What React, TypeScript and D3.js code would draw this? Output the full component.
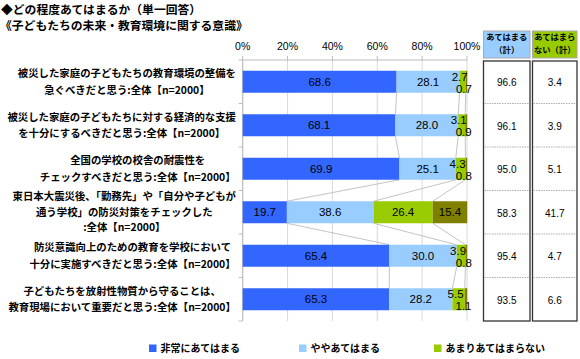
import React from "react";
import * as d3 from "d3";

const categories: string[][] = [
  ["被災した家庭の子どもたちの教育環境の整備を", "急ぐべきだと思う:全体【n=2000】"],
  ["被災した家庭の子どもたちに対する経済的な支援", "を十分にするべきだと思う:全体【n=2000】"],
  ["全国の学校の校舎の耐震性を", "チェックすべきだと思う:全体【n=2000】"],
  ["東日本大震災後、「勤務先」や「自分や子どもが", "通う学校」の防災対策をチェックした", ":全体【n=2000】"],
  ["防災意識向上のための教育を学校において", "十分に実施すべきだと思う:全体【n=2000】"],
  ["子どもたちを放射性物質から守ることは、", "教育現場において重要だと思う:全体【n=2000】"],
];

const seriesNames = ["非常にあてはまる", "ややあてはまる", "あまりあてはまらない", "まったくあてはまらない"];
const very = [68.6, 68.1, 69.9, 19.7, 65.4, 65.3];
const some = [28.1, 28.0, 25.1, 38.6, 30.0, 28.2];
const notMuch = [2.7, 3.1, 4.3, 26.4, 3.9, 5.5];
const notAtAll = [0.7, 0.9, 0.8, 15.4, 0.8, 1.1];
const appliesTotal = [96.6, 96.1, 95.0, 58.3, 95.4, 93.5];
const notAppliesTotal = [3.4, 3.9, 5.1, 41.7, 4.7, 6.6];
const xTicks = [0, 20, 40, 60, 80, 100];

const colors = ["#3366FF", "#99CCFF", "#99CC00", "#808000"];
const FONT = "'Noto Sans CJK JP', 'Noto Sans', sans-serif";
const NUMFONT = "'Liberation Sans', Arial, sans-serif";

const W = 580, H = 359;

let ctx: CanvasRenderingContext2D | null = null;
function measure(text: string, font: string): number {
  if (!ctx) ctx = document.createElement("canvas").getContext("2d");
  if (!ctx) return text.length * 10;
  ctx.font = font;
  return ctx.measureText(text).width;
}

export default function App() {
  const x = d3.scaleLinear().domain([0, 100]).range([242.7, 467]);
  const y = d3.scaleBand<number>().domain(d3.range(categories.length)).range([60, 321]).paddingInner(0).paddingOuter(0);
  const barH = 22;

  const rows = categories.map((_, i) => [very[i], some[i], notMuch[i], notAtAll[i]]);
  const stack = rows.map((r) => {
    let acc = 0;
    return r.map((v) => {
      const s = acc;
      acc += v;
      return [s, acc];
    });
  });

  const labelFontSize = 10.4;
  const labelFont = `bold ${labelFontSize}px ${FONT}`;
  const labelRight = 236;

  return (
    <svg width={W} height={H} style={{ position: "absolute", left: 0, top: 0, background: "#fff" }}>
      {/* Title */}
      <text x={1} y={13.5} fontFamily={FONT} fontWeight="bold" fontSize={11.8} fill="#000">◆どの程度あてはまるか（単一回答）</text>
      <text x={0} y={29.5} fontFamily={FONT} fontWeight="bold" fontSize={11.8} fill="#000">《子どもたちの未来・教育環境に関する意識》</text>

      {/* gridlines */}
      {xTicks.map((t) => (
        <line key={"g" + t} x1={x(t)} x2={x(t)} y1={60} y2={321} stroke="#d9d9d9" strokeWidth={1} />
      ))}
      {/* top axis */}
      <line x1={x(0)} x2={x(100)} y1={60} y2={60} stroke="#bbb" />
      {xTicks.map((t) => (
        <g key={"t" + t}>
          <line x1={x(t)} x2={x(t)} y1={56} y2={60} stroke="#bbb" />
          <text x={x(t)} y={50} textAnchor="middle" fontFamily={NUMFONT} fontSize={10.5} fill="#000">{t}%</text>
        </g>
      ))}
      {/* left axis */}
      <line x1={x(0)} x2={x(0)} y1={60} y2={321} stroke="#bbb" />
      {d3.range(categories.length + 1).map((k) => {
        const yy = 60 + k * y.bandwidth();
        return <line key={"lt" + k} x1={x(0) - 4} x2={x(0)} y1={yy} y2={yy} stroke="#bbb" />;
      })}

      {/* series lines */}
      {d3.range(categories.length - 1).map((i) =>
        [0, 1, 2].map((j) => {
          const y1 = (y(i) as number) + y.bandwidth() / 2 + barH / 2;
          const y2 = (y(i + 1) as number) + y.bandwidth() / 2 - barH / 2;
          return (
            <line key={`sl${i}-${j}`} x1={x(stack[i][j][1])} x2={x(stack[i + 1][j][1])} y1={y1} y2={y2} stroke="#b5b5b5" strokeWidth={0.8} />
          );
        })
      )}

      {/* bars */}
      {stack.map((segs, i) => {
        const cy = (y(i) as number) + y.bandwidth() / 2;
        return (
          <g key={"b" + i}>
            {segs.map(([s, e], j) => (
              <rect key={j} x={x(s)} y={cy - barH / 2} width={Math.max(0, Math.min(x(e), x(100.2)) - x(s))} height={barH} fill={colors[j]} />
            ))}
          </g>
        );
      })}
      {/* value labels */}
      {stack.map((segs, i) => {
        const cy = (y(i) as number) + y.bandwidth() / 2;
        return (
          <g key={"v" + i}>
            {segs.map(([s, e], j) => {
              const v = rows[i][j];
              let lx = (x(s) + x(e)) / 2;
              let ly = cy;
              if (v < 8 && j === 2) { lx -= 3; ly = cy - 5; }
              if (v < 8 && j === 3) { lx -= 2.5; ly = cy + 7; }
              return (
                <text key={j} x={lx} y={ly} dy="0.36em" textAnchor="middle" fontFamily={NUMFONT} fontSize={11.5} fill="#000">
                  {v.toFixed(1)}
                </text>
              );
            })}
          </g>
        );
      })}

      {/* category labels */}
      {categories.map((lines, i) => {
        const cy = (y(i) as number) + y.bandwidth() / 2;
        const maxW = Math.min(233, Math.max(...lines.map((l) => measure(l, labelFont))));
        const cx = labelRight - maxW / 2;
        const lh = lines.length === 3 ? 15.5 : 16.8;
        const startY = cy - ((lines.length - 1) * lh) / 2;
        return (
          <text key={"c" + i} fontFamily={FONT} fontWeight="bold" fontSize={labelFontSize} fill="#000" textAnchor="middle">
            {lines.map((l, k) => (
              <tspan key={k} x={cx} y={startY + k * lh} dy="0.36em">{l}</tspan>
            ))}
          </text>
        );
      })}

      {/* table */}
      {[
        { x0: 483.5, x1: 530, bg: colors[1], head: ["あてはまる", "（計）"], vals: appliesTotal },
        { x0: 532.5, x1: 577, bg: colors[2], head: ["あてはまら", "ない（計）"], vals: notAppliesTotal },
      ].map((col, ci) => (
        <g key={"col" + ci}>
          <rect x={col.x0} y={31} width={col.x1 - col.x0} height={27} fill={col.bg} stroke="#aaa" strokeWidth={1} />
          {col.head.map((h, k) => (
            <text key={k} x={(col.x0 + col.x1) / 2} y={37 + k * 13.5} dy="0.36em" textAnchor="middle" fontFamily={FONT} fontWeight="bold" fontSize={8.3} fill="#000">{h}</text>
          ))}
          <rect x={col.x0} y={61} width={col.x1 - col.x0} height={260} fill="#fff" stroke="#333" strokeWidth={1.3} />
          {d3.range(1, categories.length).map((k) => {
            const yy = 60 + k * y.bandwidth();
            return <line key={k} x1={col.x0 + 1} x2={col.x1 - 1} y1={yy} y2={yy} stroke="#999" strokeWidth={0.8} strokeDasharray="1.5,1" />;
          })}
          {col.vals.map((v, k) => (
            <text key={"tv" + k} x={(col.x0 + col.x1) / 2} y={(y(k) as number) + y.bandwidth() / 2 + 1} dy="0.36em" textAnchor="middle" fontFamily={NUMFONT} fontSize={10} fill="#000">{v.toFixed(1)}</text>
          ))}
        </g>
      ))}

      {/* legend */}
      {[
        { sx: 149, name: seriesNames[0], c: colors[0] },
        { sx: 299, name: seriesNames[1], c: colors[1] },
        { sx: 434, name: seriesNames[2], c: colors[2] },
      ].map((l, i) => (
        <g key={"lg" + i}>
          <rect x={l.sx} y={344.5} width={7.5} height={7.5} fill={l.c} />
          <text x={l.sx + 11.5} y={348.3} dy="0.36em" fontFamily={FONT} fontWeight="bold" fontSize={10} fill="#000">{l.name}</text>
        </g>
      ))}
    </svg>
  );
}
